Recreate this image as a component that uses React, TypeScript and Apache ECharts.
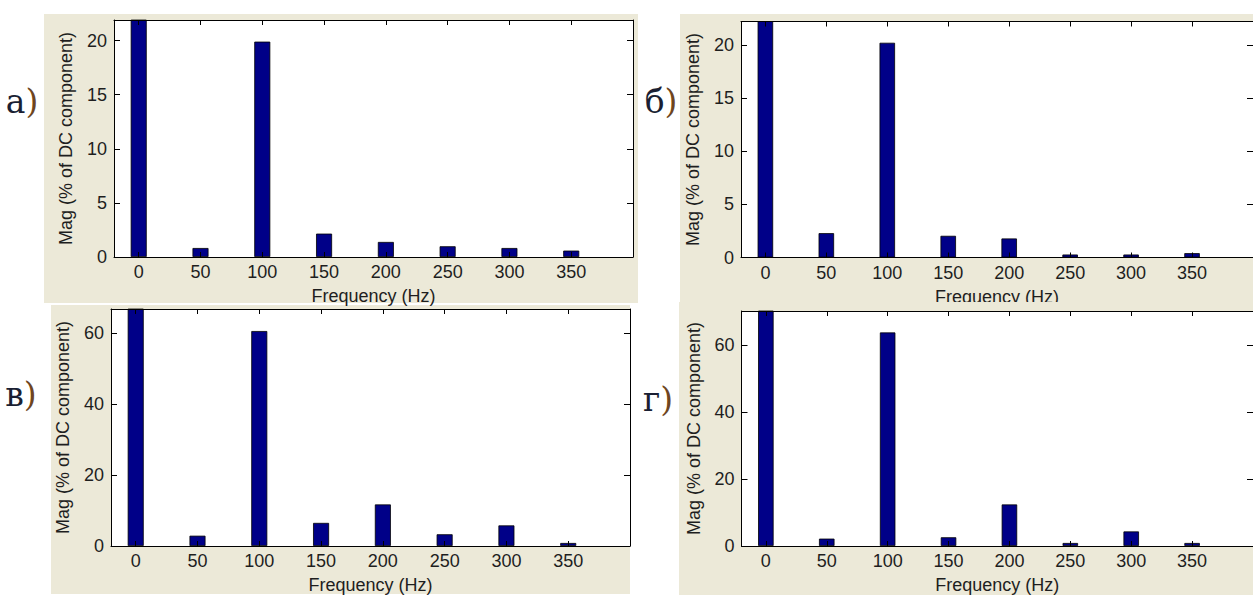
import React, { useEffect, useRef } from "react";
import * as echarts from "echarts";

// ---- data ----
const freqs = [0, 50, 100, 150, 200, 250, 300, 350];
const magA = [100, 0.83, 19.9, 2.16, 1.39, 0.99, 0.83, 0.59];
const magB = [100, 2.29, 20.2, 2.04, 1.79, 0.28, 0.28, 0.41];
const magV = [100, 2.9, 60.5, 6.5, 11.7, 3.3, 5.8, 0.85];
const magG = [100, 2.2, 63.7, 2.6, 12.4, 0.9, 4.35, 0.9];

const xTicks = [0, 50, 100, 150, 200, 250, 300, 350];
const yTicksSmall = [0, 5, 10, 15, 20];
const yTicksLarge = [0, 20, 40, 60];
const xMin = -20;
const xMax = 400;
const yMaxes = [21.9, 22.2, 66.7, 70.1];

const panelLetters = ["а", "б", "в", "г"];
const xTitle = "Frequency (Hz)";
const yTitle = "Mag (% of DC component)";

// ---- layout / style ----
const grids = [
  { left: 114, top: 20, width: 519, height: 237 },
  { left: 741, top: 21.5, width: 516, height: 236 },
  { left: 111, top: 309, width: 519, height: 237 },
  { left: 741.5, top: 311, width: 516, height: 236 },
];
const panelBgs = [
  { x: 44, y: 14, width: 594, height: 289 },
  { x: 680, y: 14, width: 600, height: 288 },
  { x: 51, y: 305, width: 579, height: 289 },
  { x: 679, y: 302, width: 600, height: 293 },
];
const letterPos = [
  { x: 22, y: 101 },
  { x: 661, y: 101 },
  { x: 21, y: 394 },
  { x: 658, y: 399 },
];
const barWidths = [16, 15.5, 16, 15.5];

const BG = "#ece9d8";
const BAR = "#000088";
const TXT = "#1e1e1e";
const FONT = "Liberation Sans";

export default function App() {
  const ref = useRef<HTMLDivElement>(null);

  useEffect(() => {
    if (!ref.current) return;
    const chart = echarts.init(ref.current, undefined, { renderer: "svg" });
    const mags = [magA, magB, magV, magG];
    const yTickSets = [yTicksSmall, yTicksSmall, yTicksLarge, yTicksLarge];

    const xAxis: any[] = [];
    const yAxis: any[] = [];
    const series: any[] = [];

    grids.forEach((g, i) => {
      const line = { show: true, onZero: false, lineStyle: { color: "#000", width: 1 } };
      xAxis.push({
        type: "value",
        gridIndex: i,
        position: "bottom",
        min: xMin,
        max: xMax,
        z: 5,
        name: xTitle,
        nameLocation: "middle",
        nameGap: 30,
        nameTextStyle: { fontSize: 18, color: TXT, fontFamily: FONT },
        axisLine: line,
        axisTick: { show: true, inside: true, length: 5, customValues: xTicks, lineStyle: { color: "#000" } },
        axisLabel: { show: true, customValues: xTicks, margin: 6, fontSize: 18, color: TXT, fontFamily: FONT },
        splitLine: { show: false },
      });
      xAxis.push({
        type: "value",
        gridIndex: i,
        position: "top",
        min: xMin,
        max: xMax,
        z: 5,
        axisLine: line,
        axisTick: { show: true, inside: true, length: 5, customValues: xTicks, lineStyle: { color: "#000" } },
        axisLabel: { show: false, customValues: xTicks },
        splitLine: { show: false },
      });
      yAxis.push({
        type: "value",
        gridIndex: i,
        position: "left",
        min: 0,
        max: yMaxes[i],
        z: 5,
        name: yTitle,
        nameLocation: "middle",
        nameGap: 39,
        nameTextStyle: { fontSize: 18, color: TXT, fontFamily: FONT },
        axisLine: line,
        axisTick: { show: true, inside: true, length: 6, customValues: yTickSets[i], lineStyle: { color: "#000" } },
        axisLabel: { show: true, customValues: yTickSets[i], margin: 7, fontSize: 18, color: TXT, fontFamily: FONT },
        splitLine: { show: false },
      });
      yAxis.push({
        type: "value",
        gridIndex: i,
        position: "right",
        min: 0,
        max: yMaxes[i],
        z: 5,
        axisLine: line,
        axisTick: { show: true, inside: true, length: 6, customValues: yTickSets[i], lineStyle: { color: "#000" } },
        axisLabel: { show: false, customValues: yTickSets[i] },
        splitLine: { show: false },
      });
      series.push({
        type: "bar",
        xAxisIndex: 2 * i,
        yAxisIndex: 2 * i,
        data: freqs.map((f, j) => [f, mags[i][j]]),
        barWidth: barWidths[i],
        clip: true,
        z: 3,
        itemStyle: { color: BAR, borderColor: "#000", borderWidth: 0.8 },
      });
    });

    const graphics: any[] = [];
    panelBgs.forEach((r) => {
      graphics.push({ type: "rect", z: 0, silent: true, shape: { ...r }, style: { fill: BG } });
    });
    // top strip of the lower-right panel drawn over the upper-right x title (as in the reference)
    const gBg = panelBgs[3];
    graphics.push({
      type: "rect",
      z: 10,
      silent: true,
      shape: { x: gBg.x, y: gBg.y, width: gBg.width, height: grids[3].top - gBg.y - 1 },
      style: { fill: BG },
    });
    letterPos.forEach((p, i) => {
      graphics.push({
        type: "text",
        z: 10,
        x: p.x,
        y: p.y,
        style: {
          text: `{l|${panelLetters[i]}}{p|)}`,
          align: "center",
          verticalAlign: "middle",
          rich: {
            l: { fontSize: 33, fontFamily: "DejaVu Serif", fill: "#1a1f33" },
            p: { fontSize: 33, fontFamily: "DejaVu Serif", fill: "#6e4520" },
          },
        },
      });
    });

    chart.setOption({
      animation: false,
      backgroundColor: "#ffffff",
      grid: grids.map((g) => ({
        ...g,
        show: true,
        z: 2,
        backgroundColor: "#ffffff",
        borderWidth: 0,
        containLabel: false,
      })),
      xAxis,
      yAxis,
      series,
      graphic: { elements: graphics },
    });

    return () => chart.dispose();
  }, []);

  return (
    <div
      ref={ref}
      style={{ position: "fixed", left: 0, top: 0, width: 1253, height: 595, background: "#fff" }}
    />
  );
}
